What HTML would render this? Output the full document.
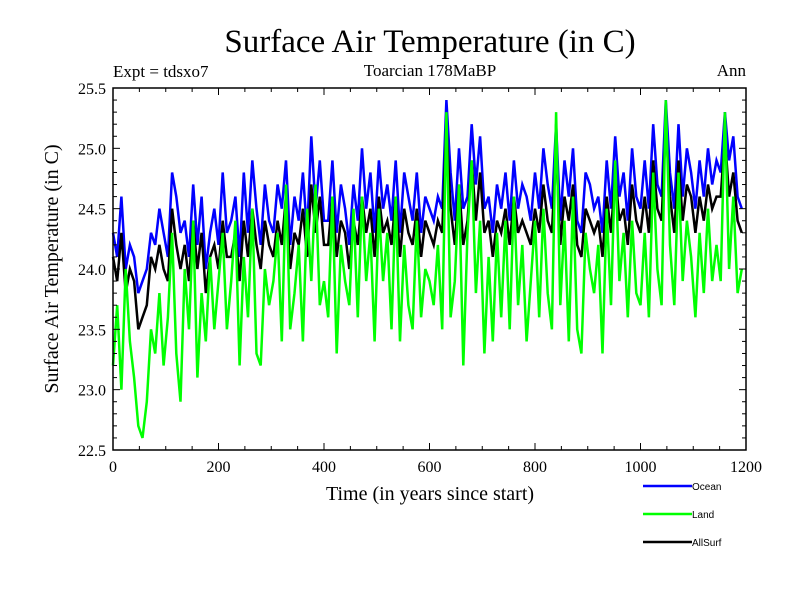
<!DOCTYPE html>
<html><head><meta charset="utf-8"><style>
body{margin:0;background:#fff}
svg text{font-family:"Liberation Serif",serif}
</style></head><body>
<svg id="chart" width="800" height="600" xmlns="http://www.w3.org/2000/svg">
<text x="430" y="52" font-size="33" text-anchor="middle">Surface Air Temperature (in C)</text>
<text x="113" y="77" font-size="17">Expt = tdsxo7</text>
<text x="430" y="76" font-size="17" text-anchor="middle">Toarcian 178MaBP</text>
<text x="746" y="76" font-size="17" text-anchor="end">Ann</text>
<text x="430" y="500" font-size="20" text-anchor="middle">Time (in years since start)</text>
<text transform="translate(58,269) rotate(-90)" font-size="20" text-anchor="middle">Surface Air Temperature (in C)</text>
<g id="series"></g>
<g id="axes"></g>
<g id="legend"></g>
</svg>
<script>
const years=[];for(let i=0;i<150;i++)years.push(i*8);
const ocean=[24.3,24.1,24.6,24.0,24.2,24.1,23.8,23.9,24.0,24.3,24.2,24.5,24.3,
24.1,24.8,24.6,24.3,24.4,24.1,24.7,24.2,24.6,24.0,24.3,24.5,24.2,
24.8,24.3,24.4,24.6,24.1,24.8,24.3,24.9,24.5,24.2,24.7,24.4,
24.3,24.7,24.5,24.9,24.2,24.6,24.4,24.8,24.3,25.1,24.5,24.9,24.4,
24.4,24.9,24.3,24.7,24.5,24.2,24.7,24.4,25.0,24.5,24.8,24.3,24.9,
24.5,24.7,24.4,24.9,24.3,24.8,24.6,24.4,24.8,24.3,24.6,24.5,
24.4,24.6,24.5,25.4,24.8,24.4,25.0,24.5,24.6,25.2,24.7,25.1,24.5,
24.6,24.3,24.7,24.5,24.8,24.4,24.9,24.5,24.7,24.6,24.4,24.8,
24.5,25.0,24.7,24.5,25.2,24.4,24.9,24.6,25.0,24.4,24.3,24.8,24.7,
24.5,24.6,24.3,24.9,24.5,25.1,24.6,24.8,24.4,25.0,24.6,24.5,
24.9,24.5,25.2,24.7,24.6,25.4,24.8,24.5,25.2,24.6,25.0,24.8,24.5,
24.9,24.6,25.0,24.7,24.9,24.8,25.3,24.9,25.1,24.6,24.5];
const land=[23.2,23.7,23.0,24.0,23.4,23.1,22.7,22.6,22.9,23.5,23.3,23.8,23.2,
23.6,24.3,23.3,22.9,24.0,23.5,24.4,23.1,23.8,23.4,24.1,23.5,23.9,
24.3,23.5,23.9,24.4,23.2,24.1,23.6,24.5,23.3,23.2,24.0,23.7,
23.9,24.3,23.4,24.7,23.5,23.8,24.2,23.4,24.5,23.9,24.7,23.7,23.9,
23.6,24.6,23.3,24.2,23.9,23.7,24.5,23.6,24.6,23.9,24.3,23.4,24.5,
23.9,24.3,23.5,24.6,23.4,24.2,23.7,23.5,24.4,23.6,24.0,23.9,
23.7,24.2,23.5,25.3,23.6,23.9,24.7,23.2,24.3,24.9,23.8,24.4,23.3,
24.1,23.4,24.3,23.6,24.4,23.5,24.6,23.7,24.2,23.4,23.9,24.4,
23.6,24.5,23.8,23.5,25.3,23.7,24.4,23.4,24.6,23.5,23.3,24.3,24.0,
23.8,24.2,23.3,24.5,23.7,24.9,23.9,24.3,23.6,24.4,23.8,23.7,
24.3,23.6,24.8,24.0,23.7,25.4,24.2,23.7,24.8,23.9,24.4,24.1,23.6,
24.3,23.8,24.5,23.9,24.2,23.9,25.3,24.0,24.6,23.8,24.0];
const allsurf=[24.1,23.9,24.3,23.8,24.0,23.9,23.5,23.6,23.7,24.1,24.0,24.2,24.0,
23.9,24.5,24.2,24.0,24.2,23.9,24.4,24.0,24.3,23.8,24.1,24.2,24.0,
24.4,24.1,24.1,24.3,23.9,24.4,24.1,24.5,24.2,24.0,24.4,24.2,
24.1,24.4,24.2,24.6,24.0,24.3,24.2,24.5,24.1,24.7,24.3,24.6,24.2,
24.2,24.6,24.1,24.4,24.3,24.0,24.4,24.2,24.6,24.3,24.5,24.1,24.6,
24.3,24.4,24.2,24.6,24.1,24.5,24.3,24.2,24.5,24.1,24.4,24.3,
24.2,24.4,24.3,25.2,24.5,24.2,24.7,24.2,24.4,24.9,24.4,24.8,24.3,
24.4,24.1,24.4,24.3,24.5,24.2,24.6,24.3,24.4,24.3,24.2,24.5,
24.3,24.7,24.4,24.3,25.0,24.2,24.6,24.4,24.7,24.2,24.1,24.5,24.4,
24.3,24.4,24.1,24.6,24.3,24.8,24.4,24.5,24.2,24.7,24.4,24.3,
24.6,24.3,24.9,24.5,24.4,25.2,24.6,24.3,24.9,24.4,24.7,24.6,24.3,
24.6,24.4,24.7,24.5,24.6,24.6,25.1,24.6,24.8,24.4,24.3];
const xTicks=[0,200,400,600,800,1000,1200];
const yTicks=[22.5,23.0,23.5,24.0,24.5,25.0,25.5];
const yTickLabels=["22.5","23.0","23.5","24.0","24.5","25.0","25.5"];

const NS="http://www.w3.org/2000/svg";
const L=113,R=746,T=88,B=450;
const xs=v=>L+(v-0)/(1200-0)*(R-L);
const ys=v=>B-(v-22.5)/(25.5-22.5)*(B-T);
function mk(tag,attrs,parent){const e=document.createElementNS(NS,tag);for(const k in attrs)e.setAttribute(k,attrs[k]);parent.appendChild(e);return e;}
const sg=document.getElementById('series');
const defs=[[ocean,'#0000ff','ocean-line'],[allsurf,'#000000','allsurf-line'],[land,'#00ff00','land-line']];
for(const [arr,col,name] of defs){
  const d=arr.map((v,i)=>(i?'L':'M')+xs(years[i]).toFixed(1)+','+ys(v).toFixed(1)).join('');
  const p=mk('path',{d:d,fill:'none',stroke:col,'stroke-width':2.5,'stroke-linejoin':'miter'},sg);
  
  
}
const ag=document.getElementById('axes');
const fr=mk('rect',{x:L,y:T,width:R-L,height:B-T,fill:'none',stroke:'#000','stroke-width':1.5},ag);


for(let v=0;v<=1200;v+=50){const major=v%200===0;const len=major?7:4;const x=xs(v);
  mk('line',{x1:x,y1:B,x2:x,y2:B-len,stroke:'#000'},ag);
  mk('line',{x1:x,y1:T,x2:x,y2:T+len,stroke:'#000'},ag);}
for(let k=0;k<=30;k++){const v=22.5+k*0.1;const major=k%5===0;const len=major?7:4;const y=ys(v);
  mk('line',{x1:L,y1:y,x2:L+len,y2:y,stroke:'#000'},ag);
  mk('line',{x1:R,y1:y,x2:R-len,y2:y,stroke:'#000'},ag);}
xTicks.forEach(v=>{const t=mk('text',{x:xs(v),y:B+22,'font-size':16,'text-anchor':'middle'},ag);t.textContent=v;
  
  });
yTicks.forEach((v,i)=>{const t=mk('text',{x:L-7,y:ys(v)+6,'font-size':16,'text-anchor':'end'},ag);t.textContent=yTickLabels[i];
  
  });
const lg=document.getElementById('legend');
[['Ocean','#0000ff',486],['Land','#00ff00',514],['AllSurf','#000000',542]].forEach(([n,c,y])=>{
  const g=mk('g',{},lg);
  
  
  mk('line',{x1:643,y1:y,x2:692,y2:y,stroke:c,'stroke-width':2.5},g);
  const t=mk('text',{x:692,y:y+4,'font-size':10,style:'font-family:"Liberation Sans",sans-serif'},g);t.textContent=n;});
</script>
</body></html>
